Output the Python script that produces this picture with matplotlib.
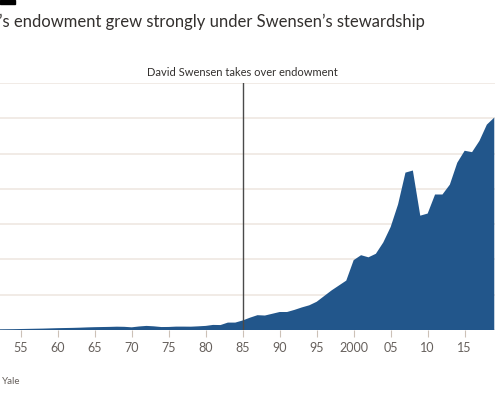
import matplotlib
matplotlib.use('Agg')
import matplotlib.pyplot as plt
from matplotlib.patches import Rectangle

plt.rcParams['font.family'] = ['Lato', 'DejaVu Sans']

# 数据 (十亿美元)
years = list(range(1952, 2020))
values = [0.10, 0.11, 0.12, 0.14, 0.16, 0.18, 0.20, 0.23, 0.26, 0.28,
          0.30, 0.33, 0.37, 0.40, 0.42, 0.44, 0.47, 0.45, 0.38, 0.50,
          0.58, 0.52, 0.42, 0.43, 0.48, 0.48, 0.47, 0.52, 0.58, 0.72,
          0.70, 1.05, 1.05, 1.35, 1.75, 2.10, 2.05, 2.30, 2.55, 2.55,
          2.85, 3.20, 3.50, 4.00, 4.80, 5.60, 6.30, 7.00, 9.90, 10.6,
          10.3, 10.8, 12.4, 14.6, 17.8, 22.3, 22.6, 16.2, 16.5, 19.2,
          19.2, 20.6, 23.7, 25.4, 25.2, 26.8, 29.1, 30.1]
tick_years = [1955, 1960, 1965, 1970, 1975, 1980, 1985, 1990, 1995, 2000, 2005, 2010, 2015]
tick_labels = ['55', '60', '65', '70', '75', '80', '85', '90', '95', '2000', '05', '10', '15']
grid_values = [0, 5, 10, 15, 20, 25, 30, 35]
event_year = 1985
event_label = 'David Swensen takes over endowment'
# 参考图左侧被裁切，只保留可见部分
title = '\u2019s endowment grew strongly under Swensen\u2019s stewardship'
source = 'Yale'

FILL = '#22568b'
GRID = '#efe8e2'
TICK = '#66605c'

fig = plt.figure(figsize=(4.95, 4.0), dpi=100)
fig.patch.set_facecolor('white')

ax = fig.add_axes([0.0, 0.175, 1.0, 0.6175])
ax.fill_between(years, values, 0, color=FILL, linewidth=0)
ax.set_xlim(1952.2, 2019.1)
ax.set_ylim(0, 35)

for g in grid_values:
    ax.axhline(g, color=GRID, linewidth=1.2, zorder=0)

ax.plot([event_year, event_year], [0, 35], color='#4a4a4a', linewidth=1, zorder=3)
ax.text(event_year, 35.7, event_label, ha='center', va='bottom', fontsize=8, color='#33302e')

ax.set_xticks(tick_years)
ax.set_xticklabels(tick_labels, fontsize=9, color=TICK)
ax.tick_params(axis='x', length=5, color='#ccc1b7', pad=4)
ax.set_yticks([])
for s in ax.spines.values():
    s.set_visible(False)

fig.text(425 / 495, 1 - 22 / 400, title, ha='right', va='center', fontsize=12, color='#33302e')
fig.text(2 / 495, 1 - 382 / 400, source, ha='left', va='center', fontsize=7, color=TICK)
fig.patches.append(Rectangle((0, 1 - 4 / 400), 15 / 495, 4 / 400, transform=fig.transFigure,
                             color='black', figure=fig))

fig.savefig('out.png', dpi=100, facecolor='white')
